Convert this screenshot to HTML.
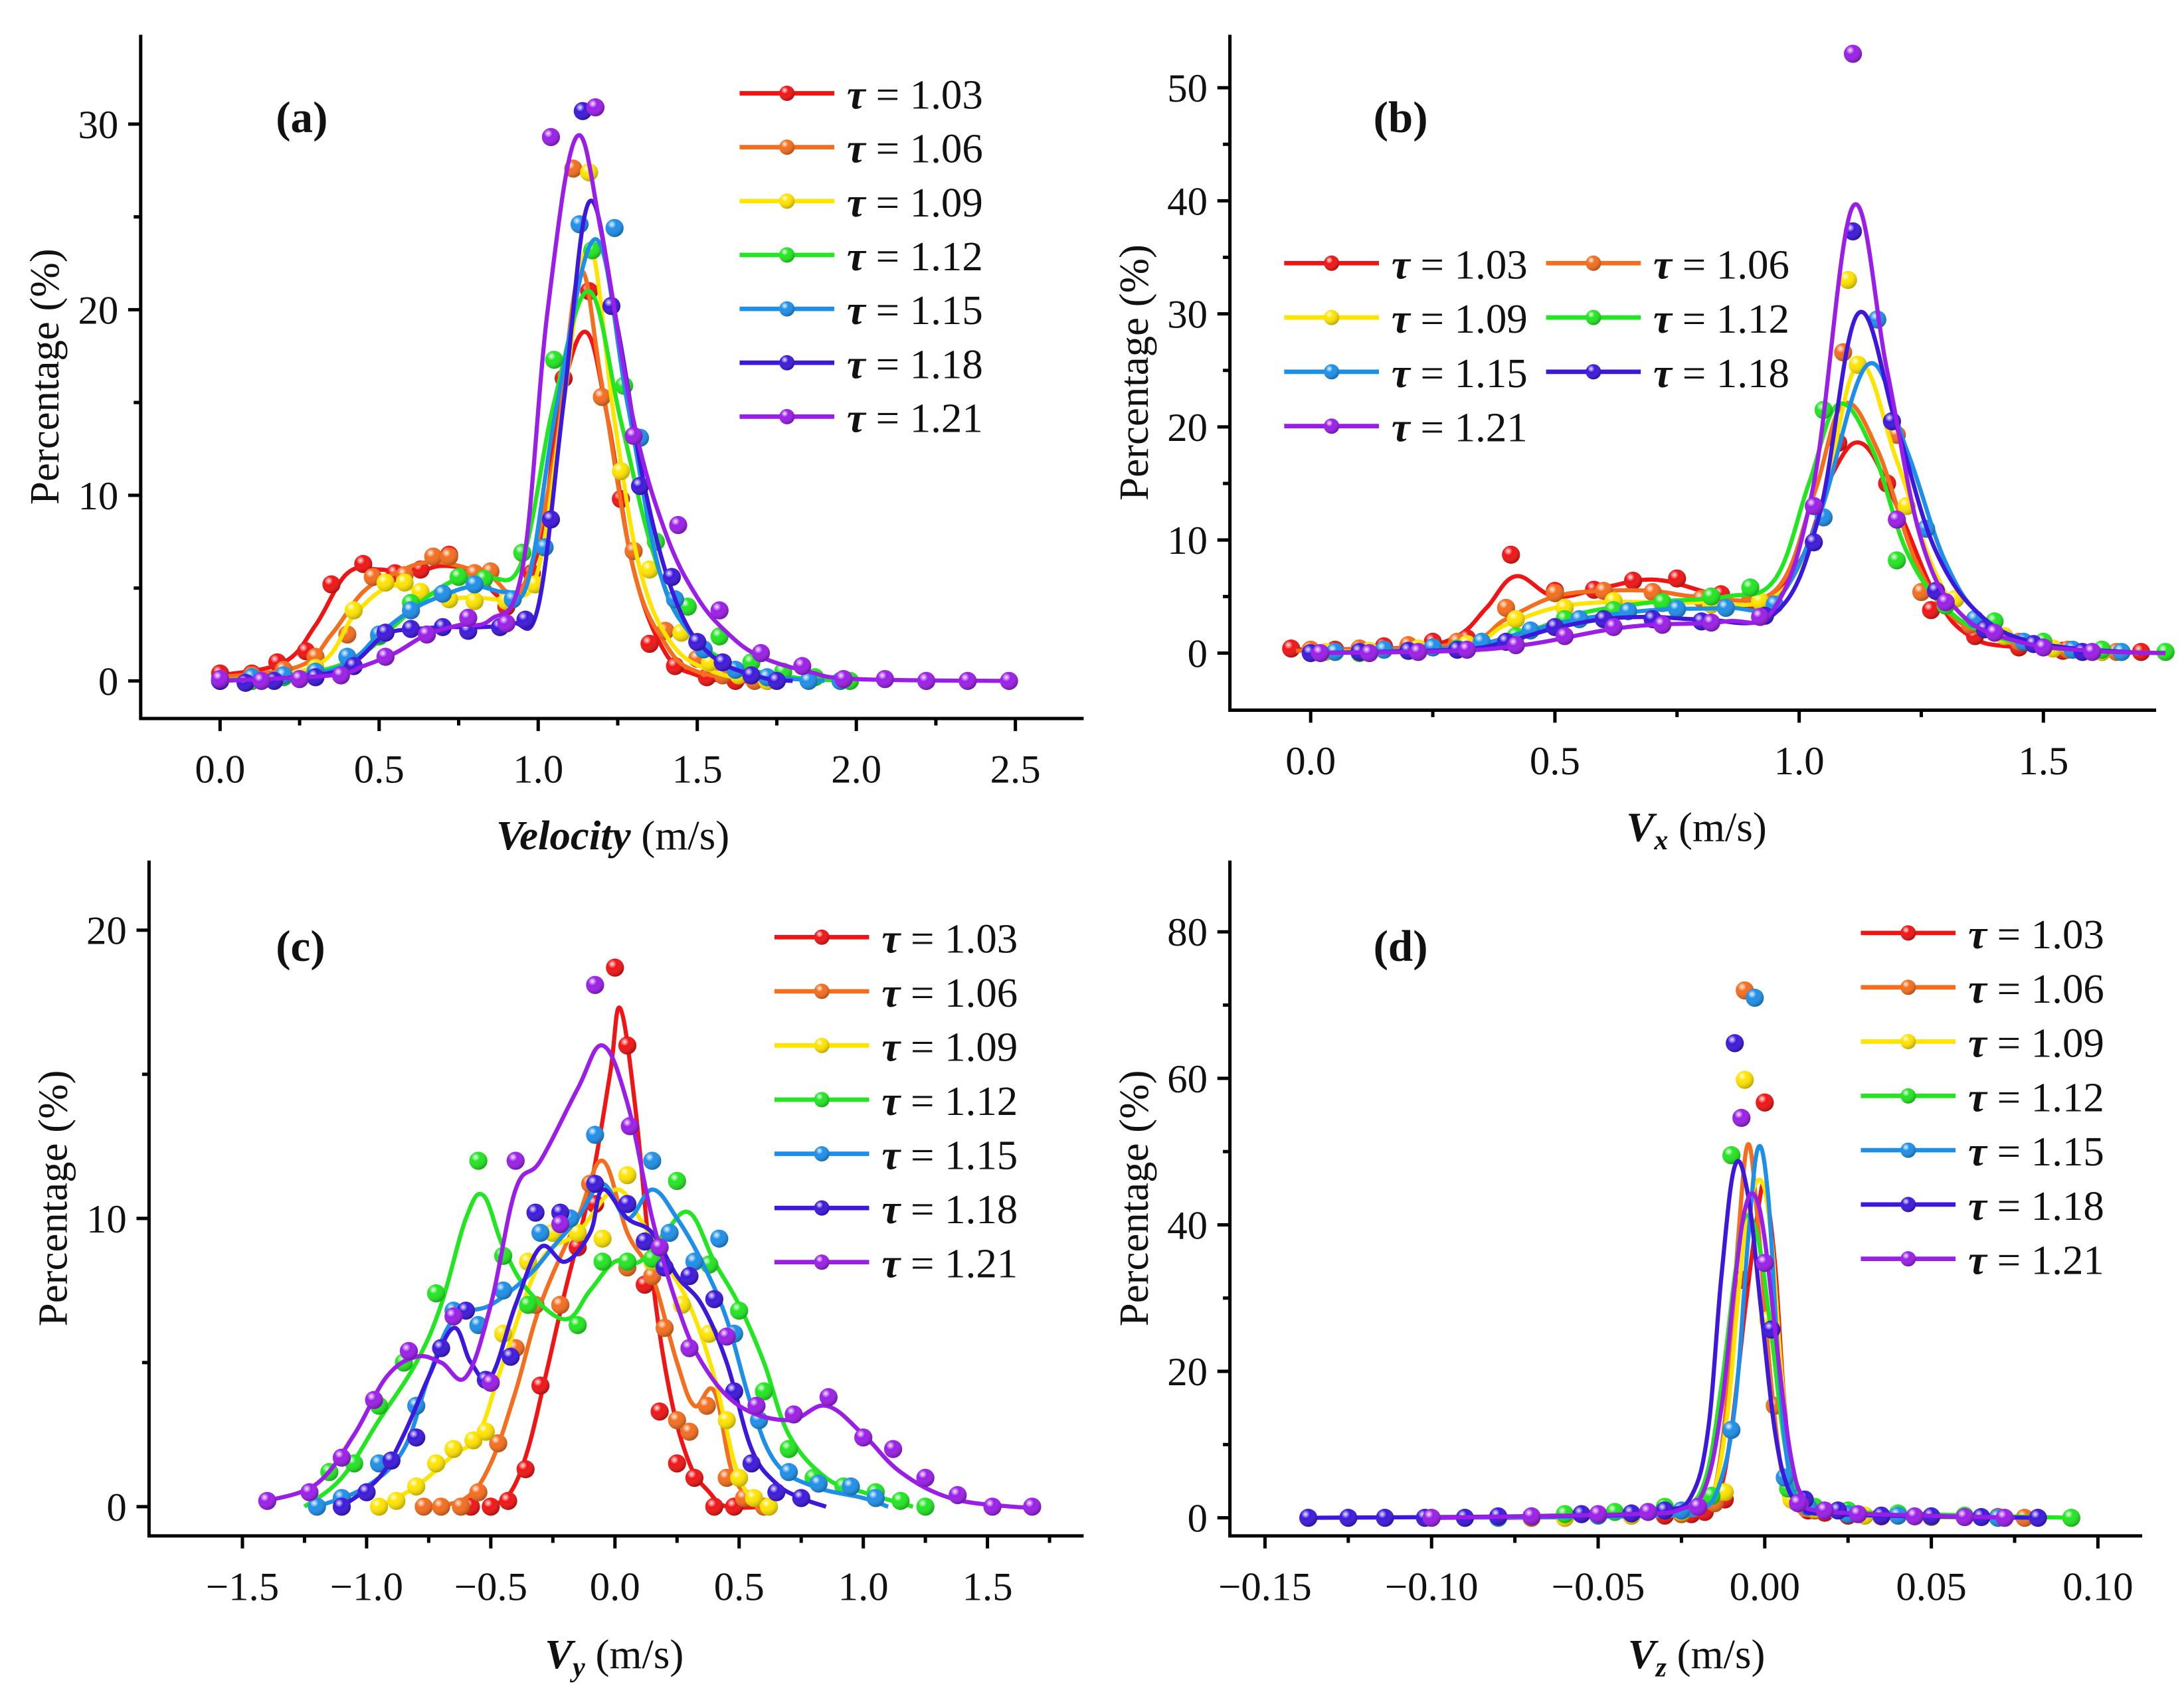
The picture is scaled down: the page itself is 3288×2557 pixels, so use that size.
<!DOCTYPE html>
<html><head><meta charset="utf-8"><style>
html,body{margin:0;padding:0;background:#fff;}
svg{display:block;font-family:"Liberation Serif",serif;}
</style></head><body>
<svg id="fig" width="3288" height="2557" viewBox="0 0 1568 1219.4" xmlns="http://www.w3.org/2000/svg">
<defs>
<radialGradient id="hl" cx="0.35" cy="0.3" r="0.7"><stop offset="0" stop-color="#fff" stop-opacity="0.9"/><stop offset="0.35" stop-color="#fff" stop-opacity="0"/><stop offset="1" stop-color="#000" stop-opacity="0.25"/></radialGradient>
</defs>
</svg>
<script>
const colors = ['#f01414','#f46e1e','#ffe400','#22e622','#1e8fe8','#3c18dc','#9b1ee8'];
const labels = ['1.03','1.06','1.09','1.12','1.15','1.18','1.21'];

const aCurves = [
[[0,0.3],[0.2,1],[0.3,3],[0.4,5.8],[0.5,6],[0.6,5.8],[0.7,6.2],[0.8,5.8],[0.9,4.5],[1.0,7],[1.07,15],[1.15,18.8],[1.22,14],[1.3,6],[1.4,1.5],[1.5,0.3],[1.6,0],[1.75,0]],
[[0,0.2],[0.25,0.8],[0.35,2.5],[0.45,4.8],[0.55,5.8],[0.65,6.4],[0.75,6.2],[0.85,5.6],[0.95,5],[1.05,12],[1.13,22],[1.2,16],[1.3,6],[1.4,2],[1.5,0.5],[1.7,0]],
[[0,0],[0.3,0.8],[0.42,3.5],[0.52,5],[0.6,5],[0.7,4.5],[0.8,4.5],[0.92,4.5],[1.0,6],[1.08,15],[1.16,23.5],[1.24,14],[1.32,6],[1.42,2],[1.55,0.5],[1.7,0]],
[[0,0],[0.3,0.5],[0.45,1.5],[0.55,3],[0.65,4.5],[0.75,5.5],[0.85,5.5],[0.95,6.5],[1.05,15],[1.16,21],[1.26,14],[1.36,7],[1.46,3],[1.6,1],[1.8,0.2],[2.0,0]],
[[0,0],[0.3,0.4],[0.42,1.2],[0.5,2.5],[0.6,3.8],[0.7,4.6],[0.8,5.1],[0.9,4.8],[0.97,5.5],[1.06,15],[1.18,23.8],[1.28,15],[1.38,6],[1.48,2.5],[1.6,0.8],[1.75,0.2],[1.9,0]],
[[0,0],[0.3,0.3],[0.42,1],[0.52,2.5],[0.62,2.8],[0.72,2.9],[0.82,2.9],[0.92,3.1],[1.0,4],[1.08,15],[1.16,25.8],[1.25,19],[1.34,10],[1.44,4],[1.55,1.3],[1.7,0.2],[1.8,0]],
[[0,0],[0.35,0.3],[0.45,0.8],[0.55,1.5],[0.65,2.5],[0.75,3],[0.85,3.3],[0.95,6],[1.03,20],[1.12,29.3],[1.2,24],[1.3,14],[1.4,8],[1.5,4.5],[1.6,2.5],[1.7,1.3],[1.85,0.5],[2.0,0.1],[2.5,0]]
];
const aPoints = [
[[0,0.4],[0.1,0.4],[0.18,1],[0.27,1.6],[0.35,5.2],[0.45,6.3],[0.55,5.8],[0.63,6],[0.72,6.8],[0.8,5.8],[0.9,4],[0.98,5.8],[1.08,16.3],[1.16,21],[1.26,9.8],[1.35,2],[1.43,0.8],[1.53,0.2],[1.62,0],[1.72,0]],
[[0,0.1],[0.1,0.3],[0.2,0.6],[0.3,1.3],[0.4,2.5],[0.48,5.6],[0.58,5.7],[0.67,6.7],[0.72,6.7],[0.8,5.8],[0.85,5.9],[1.11,27.6],[1.2,15.3],[1.3,7],[1.4,2.7],[1.5,1.2],[1.58,0.3],[1.68,0],[1.72,0]],
[[0,0],[0.1,0],[0.2,0.3],[0.3,0.7],[0.42,3.8],[0.52,5.3],[0.58,5.3],[0.63,4.8],[0.72,4.4],[0.8,4.3],[0.9,4.3],[0.99,5.2],[1.16,27.4],[1.26,11.3],[1.35,6],[1.45,2.6],[1.54,1],[1.63,0.3],[1.72,0]],
[[0,0],[0.1,0],[0.2,0.2],[0.3,0.3],[0.42,0.8],[0.5,2.4],[0.6,4.2],[0.75,5.6],[0.83,5.5],[0.95,6.9],[1.05,17.3],[1.17,23.2],[1.27,15.9],[1.37,7.5],[1.47,4],[1.57,2.4],[1.67,1],[1.77,0.5],[1.87,0.2],[1.98,0]],
[[0,0.1],[0.1,0.2],[0.2,0.3],[0.3,0.5],[0.4,1.3],[0.5,2.5],[0.6,3.8],[0.7,4.7],[0.8,5.2],[0.92,4.4],[1.02,7.2],[1.13,24.6],[1.24,24.4],[1.32,13.1],[1.43,4.4],[1.52,1.7],[1.62,0.6],[1.72,0.2],[1.85,0],[1.95,0]],
[[0,0],[0.08,-0.1],[0.17,0],[0.3,0.2],[0.42,0.8],[0.52,2.6],[0.6,2.8],[0.7,2.9],[0.78,2.7],[0.88,2.9],[0.96,3.3],[1.04,8.7],[1.14,30.7],[1.23,20.2],[1.32,10.5],[1.42,5.6],[1.5,2.1],[1.58,1],[1.67,0.3],[1.75,0]],
[[0,0.1],[0.13,0],[0.25,0.1],[0.38,0.3],[0.52,1.3],[0.65,2.5],[0.78,3.4],[0.9,3.1],[1.04,29.3],[1.18,30.9],[1.3,13.2],[1.44,8.4],[1.57,3.8],[1.7,1.5],[1.83,0.8],[1.96,0.1],[2.09,0.1],[2.22,0],[2.35,0],[2.48,0]]
];

const bCurves = [
[[-0.05,0.3],[0.2,0.5],[0.3,1.5],[0.36,4],[0.42,6.8],[0.5,5],[0.6,5.8],[0.7,6.5],[0.8,5.5],[0.9,4],[1.0,8],[1.07,16],[1.13,18.5],[1.2,13],[1.28,5],[1.35,1.5],[1.45,0.5],[1.7,0]],
[[-0.03,0.2],[0.3,0.8],[0.4,3],[0.5,5],[0.6,5.5],[0.7,5.5],[0.8,5],[0.95,5.5],[1.03,14],[1.09,22],[1.16,18],[1.24,8],[1.32,3],[1.45,0.8],[1.6,0.2],[1.75,0]],
[[0,0.1],[0.3,0.5],[0.4,2.5],[0.5,4],[0.6,4.5],[0.7,4.5],[0.8,4.5],[0.95,5],[1.04,12],[1.12,25.5],[1.2,17],[1.28,7],[1.36,2.5],[1.5,0.5],[1.7,0]],
[[0,0],[0.3,0.5],[0.45,2],[0.55,3.5],[0.7,4.5],[0.85,5],[0.95,6.5],[1.02,15],[1.08,22],[1.15,18],[1.22,9],[1.3,4],[1.4,1.5],[1.55,0.3],[1.75,0]],
[[0,0],[0.3,0.5],[0.45,2],[0.55,3],[0.7,3.8],[0.85,4],[0.95,4.5],[1.04,12],[1.14,25.5],[1.22,18],[1.3,8],[1.38,3],[1.5,0.8],[1.7,0]],
[[0,0],[0.3,0.3],[0.4,1],[0.5,2.2],[0.6,3],[0.7,3.2],[0.8,3],[0.95,3.5],[1.04,12],[1.12,30],[1.2,20],[1.28,9],[1.38,3],[1.5,0.8],[1.7,0]],
[[0,0],[0.3,0.2],[0.45,0.8],[0.6,2],[0.7,2.5],[0.85,2.8],[0.95,4],[1.03,15],[1.11,39.5],[1.18,25],[1.25,10],[1.33,3.5],[1.45,1],[1.6,0.2],[1.75,0]]
];
const bPoints = [
[[-0.04,0.4],[0.05,0.3],[0.15,0.6],[0.25,1],[0.32,1.3],[0.41,8.7],[0.5,5.5],[0.58,5.6],[0.66,6.4],[0.75,6.6],[0.84,5.2],[1.08,18.6],[1.18,15],[1.27,3.8],[1.36,1.5],[1.45,0.5],[1.54,0.2],[1.62,0.1],[1.7,0.1]],
[[0,0.3],[0.1,0.4],[0.2,0.7],[0.3,1],[0.4,4],[0.5,5.3],[0.6,5.5],[0.7,5.4],[0.8,4.8],[0.9,5],[1.09,26.6],[1.2,19.3],[1.25,5.4],[1.35,2.5],[1.45,1],[1.55,0.3],[1.65,0.1]],
[[0.03,0.1],[0.12,0.2],[0.22,0.4],[0.32,0.8],[0.42,3],[0.52,4],[0.62,4.6],[0.72,4.4],[0.82,4.3],[0.92,4.6],[1.1,33],[1.12,25.5],[1.22,13],[1.32,4.8],[1.42,1.5],[1.52,0.4],[1.62,0.1]],
[[0.1,0],[0.2,0.2],[0.3,0.4],[0.42,1.5],[0.52,3],[0.62,3.8],[0.72,4.5],[0.82,5],[0.9,5.8],[1.05,21.5],[1.2,8.2],[1.3,4.2],[1.4,2.8],[1.5,1],[1.62,0.3],[1.75,0.1]],
[[0.05,0.1],[0.15,0.3],[0.25,0.5],[0.35,1],[0.45,2],[0.55,3],[0.65,3.7],[0.75,3.9],[0.85,4],[0.95,4.3],[1.05,12],[1.16,29.5],[1.26,11],[1.36,3],[1.46,1],[1.56,0.3],[1.66,0.1]],
[[0,0],[0.1,0.1],[0.2,0.2],[0.3,0.3],[0.4,1],[0.5,2.3],[0.6,3],[0.7,3],[0.8,2.8],[0.93,3.3],[1.03,9.8],[1.11,37.3],[1.19,20.5],[1.28,5.5],[1.38,2.1],[1.48,0.8],[1.58,0.1]],
[[0.02,0],[0.12,0],[0.22,0.1],[0.32,0.3],[0.42,0.7],[0.52,1.5],[0.62,2.3],[0.72,2.5],[0.82,2.7],[0.92,3.2],[1.03,13],[1.11,53],[1.2,11.8],[1.3,4.5],[1.4,1.8],[1.5,0.5],[1.6,0.1]]
];

const cCurves = [
[[-0.5,0],[-0.42,0.5],[-0.35,2],[-0.28,4.5],[-0.2,7.5],[-0.1,11],[-0.02,15],[0.02,17.3],[0.08,14],[0.15,8],[0.22,4],[0.3,1.5],[0.38,0.5],[0.45,0],[0.6,0]],
[[-0.75,0],[-0.6,0.3],[-0.5,1.5],[-0.4,4],[-0.3,7],[-0.15,10],[-0.05,12],[0.05,9.5],[0.15,8],[0.25,5],[0.32,3.5],[0.4,4],[0.48,1],[0.6,0]],
[[-0.95,0],[-0.8,0.7],[-0.65,1.8],[-0.55,2.5],[-0.45,5],[-0.3,8.5],[-0.15,9.5],[0,11],[0.1,10],[0.2,8.5],[0.3,7],[0.4,4.5],[0.5,1],[0.6,0]],
[[-1.25,0],[-1.1,1],[-0.95,3],[-0.8,5],[-0.7,7],[-0.6,10],[-0.53,10.8],[-0.45,9],[-0.35,7.5],[-0.2,6.5],[-0.1,7.5],[0,8.5],[0.1,8.5],[0.2,9.5],[0.3,10.2],[0.4,8.5],[0.5,7],[0.6,5],[0.7,2.5],[0.85,1],[1,0.5],[1.2,0]],
[[-1.2,0],[-1.0,0.7],[-0.85,2],[-0.75,4.5],[-0.65,6.5],[-0.5,7],[-0.35,8],[-0.25,9],[-0.15,10],[-0.05,11.2],[0.05,10],[0.15,11],[0.25,10],[0.35,8.5],[0.45,6.5],[0.55,3.5],[0.65,1.5],[0.8,0.7],[1,0.3],[1.1,0]],
[[-1.1,0],[-0.95,1],[-0.85,2.5],[-0.75,4.5],[-0.65,6.2],[-0.58,5],[-0.5,4.5],[-0.4,7],[-0.3,9],[-0.2,8.5],[-0.1,9.5],[-0.05,11],[0.05,10],[0.15,9.5],[0.25,8],[0.35,7],[0.45,5],[0.55,2],[0.65,0.8],[0.75,0.3],[0.85,0]],
[[-1.4,0.2],[-1.2,0.8],[-1.05,2.5],[-0.92,4.5],[-0.8,5.2],[-0.7,5],[-0.6,4.5],[-0.5,7],[-0.4,11],[-0.3,12],[-0.15,14.5],[-0.05,16],[0.05,14],[0.15,10],[0.25,7],[0.35,5],[0.5,3.5],[0.7,3],[0.85,3.5],[1.0,2.5],[1.15,1.2],[1.35,0.3],[1.6,0],[1.7,0]]
];
const cPoints = [
[[-0.58,0],[-0.5,0],[-0.43,0.2],[-0.36,1.3],[-0.3,4.2],[-0.22,7],[-0.15,9],[-0.08,10.5],[0.0,18.7],[0.05,16],[0.12,7.7],[0.18,3.3],[0.25,1.5],[0.32,1.0],[0.4,0],[0.48,0]],
[[-0.77,0],[-0.7,0],[-0.62,0],[-0.55,0.5],[-0.47,2.2],[-0.4,5.5],[-0.32,7],[-0.22,7],[-0.1,11.2],[0.05,8.3],[0.15,8],[0.2,6.2],[0.25,3],[0.3,2.6],[0.37,3.5],[0.45,1],[0.52,0.3],[0.6,0]],
[[-0.95,0],[-0.88,0.2],[-0.8,0.7],[-0.72,1.5],[-0.65,2],[-0.57,2.3],[-0.52,2.6],[-0.45,6],[-0.35,8.5],[-0.25,9.5],[-0.15,9.5],[-0.05,9.3],[0.05,11.5],[0.15,8.5],[0.27,7],[0.38,6],[0.45,3],[0.5,1],[0.56,0.3],[0.62,0]],
[[-1.15,1.2],[-1.05,1.5],[-0.95,3.5],[-0.85,5],[-0.72,7.4],[-0.55,12],[-0.45,8.7],[-0.35,7],[-0.15,6.3],[-0.05,8.5],[0.05,8.5],[0.15,8.6],[0.25,11.3],[0.38,8.4],[0.5,6.8],[0.6,4],[0.7,2],[0.8,1],[0.92,0.7],[1.05,0.5],[1.15,0.2],[1.25,0]],
[[-1.2,0],[-1.1,0.3],[-0.95,1.5],[-0.8,3.5],[-0.65,6.8],[-0.55,6.3],[-0.45,7.5],[-0.3,9.5],[-0.18,10],[-0.08,12.9],[0.15,12],[0.22,9.5],[0.32,8.5],[0.42,9.3],[0.48,6],[0.58,3],[0.7,1.2],[0.82,0.8],[0.95,0.7],[1.05,0.3]],
[[-1.1,0],[-1.0,0.5],[-0.9,1.6],[-0.8,2.4],[-0.7,5.5],[-0.6,6.8],[-0.52,4.4],[-0.42,5.2],[-0.32,10.2],[-0.22,10.2],[-0.08,11.2],[0.05,10.5],[0.12,9.2],[0.2,8.3],[0.3,8],[0.4,7.2],[0.48,4],[0.55,1.5],[0.65,0.5],[0.75,0.3]],
[[-1.4,0.2],[-1.23,0.5],[-1.1,1.7],[-0.97,3.7],[-0.83,5.4],[-0.65,6.6],[-0.5,4.3],[-0.4,12],[-0.22,9.8],[-0.08,18.1],[0.06,13.2],[0.18,9],[0.3,5.5],[0.45,5.9],[0.57,3.5],[0.72,3.2],[0.86,3.8],[1.0,2.4],[1.12,2],[1.25,1],[1.38,0.4],[1.52,0],[1.68,0]]
];

const dCurves = [
[[-0.08,0],[-0.03,0.3],[-0.02,0.8],[-0.014,3],[-0.01,12],[-0.006,28],[-0.002,42],[0,45],[0.003,35],[0.006,15],[0.009,4],[0.013,1],[0.02,0.3],[0.08,0]],
[[-0.1,0],[-0.03,0.3],[-0.02,1],[-0.015,4],[-0.011,18],[-0.008,38],[-0.005,51],[-0.002,40],[0.002,18],[0.006,4],[0.01,1],[0.02,0.3],[0.08,0]],
[[-0.1,0],[-0.03,0.3],[-0.02,1],[-0.015,4],[-0.011,15],[-0.008,30],[-0.005,42],[-0.001,46],[0.002,38],[0.005,20],[0.008,6],[0.012,1.5],[0.02,0.3],[0.08,0]],
[[-0.1,0],[-0.04,0.6],[-0.025,1.5],[-0.018,5],[-0.013,18],[-0.009,33],[-0.006,41],[-0.002,38],[0.002,25],[0.006,10],[0.01,3],[0.015,1.5],[0.025,0.8],[0.092,0]],
[[-0.1,0],[-0.03,0.3],[-0.02,1],[-0.014,4],[-0.009,15],[-0.005,38],[-0.002,50.5],[0.001,44],[0.004,22],[0.007,7],[0.011,2],[0.02,0.5],[0.08,0]],
[[-0.137,0],[-0.05,0.3],[-0.03,1],[-0.022,3],[-0.017,12],[-0.013,33],[-0.009,48],[-0.005,44],[-0.001,28],[0.003,12],[0.007,4],[0.012,1.5],[0.02,0.5],[0.082,0]],
[[-0.1,0],[-0.04,0.5],[-0.025,1.2],[-0.018,4],[-0.013,15],[-0.009,32],[-0.006,42],[-0.003,44],[0,38],[0.004,22],[0.008,8],[0.012,2.5],[0.02,0.8],[0.075,0]]
];
const dPoints = [
[[-0.06,0],[-0.04,0.3],[-0.03,0.3],[-0.022,0.5],[-0.018,0.8],[-0.012,2.5],[-0.007,32.5],[0,56.7],[0.008,3],[0.013,1],[0.018,0.7],[0.025,0.3],[0.035,0.2],[0.05,0.1],[0.07,0.1]],
[[-0.07,0],[-0.04,0.3],[-0.025,0.5],[-0.015,2],[-0.006,72],[0.003,15.3],[0.008,3],[0.015,1],[0.03,0.3],[0.05,0.2],[0.078,0]],
[[-0.06,0],[-0.04,0.3],[-0.025,0.8],[-0.012,3.5],[-0.006,59.8],[0.001,27],[0.008,2.5],[0.015,1.2],[0.03,0.3],[0.05,0.1],[0.07,0]],
[[-0.09,0],[-0.06,0.5],[-0.045,0.8],[-0.03,1.5],[-0.016,3],[-0.01,49.5],[0.007,4],[0.015,1.5],[0.025,1],[0.04,0.6],[0.06,0.3],[0.092,0]],
[[-0.08,0],[-0.05,0.3],[-0.025,1],[-0.01,12],[-0.003,71],[0.006,5.5],[0.013,1.5],[0.025,0.5],[0.04,0.3],[0.06,0.1],[0.07,0]],
[[-0.137,0],[-0.125,0],[-0.114,0],[-0.102,0],[-0.09,0],[-0.08,0.2],[-0.07,0.2],[-0.055,0.5],[-0.04,0.6],[-0.03,1],[-0.009,64.8],[0.002,25.7],[0.012,2.5],[0.022,1],[0.035,0.3],[0.05,0.2],[0.065,0.1],[0.082,0]],
[[-0.1,0],[-0.07,0.2],[-0.05,0.5],[-0.035,0.8],[-0.02,1.5],[-0.007,54.6],[0.0,34.8],[0.01,2],[0.018,1],[0.028,0.5],[0.045,0.2],[0.06,0.1],[0.072,0]]
];

const aXTicks = ['0.0','0.5','1.0','1.5','2.0','2.5'];
const aYTicks = ['0','10','20','30'];
const bXTicks = ['0.0','0.5','1.0','1.5'];
const bYTicks = ['0','10','20','30','40','50'];
const cXTicks = ['\u22121.5','\u22121.0','\u22120.5','0.0','0.5','1.0','1.5'];
const cYTicks = ['0','10','20'];
const dXTicks = ['\u22120.15','\u22120.10','\u22120.05','0.00','0.05','0.10'];
const dYTicks = ['0','20','40','60','80'];

const NS = 'http://www.w3.org/2000/svg';
const svg = document.getElementById('fig');
function mk(tag, attrs, parent){ const e=document.createElementNS(NS,tag); for(const k in attrs) e.setAttribute(k,attrs[k]); (parent||svg).appendChild(e); return e; }
function num(s){ return parseFloat(s.replace('\u2212','-')); }

function spline(pts){
  let d='M'+pts[0][0].toFixed(2)+','+pts[0][1].toFixed(2);
  for(let i=0;i<pts.length-1;i++){
    const p0=pts[Math.max(0,i-1)],p1=pts[i],p2=pts[i+1],p3=pts[Math.min(pts.length-1,i+2)];
    const t=0.18;
    const c1=[p1[0]+(p2[0]-p0[0])*t,p1[1]+(p2[1]-p0[1])*t];
    const c2=[p2[0]-(p3[0]-p1[0])*t,p2[1]-(p3[1]-p1[1])*t];
    d+=' C'+c1[0].toFixed(2)+','+c1[1].toFixed(2)+' '+c2[0].toFixed(2)+','+c2[1].toFixed(2)+' '+p2[0].toFixed(2)+','+p2[1].toFixed(2);
  }
  return d;
}

function ball(g,x,y,c,r){
  const b=mk('circle',{cx:x,cy:y,r:r,fill:c},g);
  
  
  mk('circle',{cx:x,cy:y,r:r,fill:'url(#hl)'},g);
}

function panel(P){
  const g=mk('g',{});
  
  
  const sx=v=>P.px0+(v-P.x0)*P.kx, sy=v=>P.py0-(v-P.y0)*P.ky;
  for(let s=0;s<7;s++){
    const sg=mk('g',{},g);
    
    
    const cp=P.curves[s].map(p=>[sx(p[0]),sy(p[1])]);
    const ln=mk('path',{d:spline(cp),fill:'none',stroke:colors[s],'stroke-width':3,'stroke-linejoin':'round'},sg);
    
    
    P.points[s].forEach(p=>ball(sg,sx(p[0]),sy(p[1]),colors[s],6.5));
  }
  const ax=mk('g',{stroke:'#000','stroke-width':2.4,fill:'none'},g);
  
  
  mk('path',{d:`M${P.L},${P.T} V${P.B} H${P.R}`},ax);
  P.xt.forEach(t=>{const x=sx(num(t)); mk('line',{x1:x,x2:x,y1:P.B,y2:P.B+9},ax);});
  P.xt.slice(0,-1).forEach((t,i)=>{const x=sx((num(t)+num(P.xt[i+1]))/2); mk('line',{x1:x,x2:x,y1:P.B,y2:P.B+5},ax);});
  {const x=sx(num(P.xt[P.xt.length-1])+(num(P.xt[1])-num(P.xt[0]))/2); if(x<P.R) mk('line',{x1:x,x2:x,y1:P.B,y2:P.B+5},ax);}
  P.yt.forEach(t=>{const y=sy(num(t)); mk('line',{x1:P.L,x2:P.L-9,y1:y,y2:y},ax);});
  const st=num(P.yt[1])-num(P.yt[0]);
  for(let v=num(P.yt[0])+st/2; sy(v)>P.T; v+=st){const y=sy(v); mk('line',{x1:P.L,x2:P.L-5,y1:y,y2:y},ax);}
  P.xt.forEach(t=>{const e=mk('text',{x:sx(num(t)),y:P.B+46,'font-size':29,'text-anchor':'middle',fill:'#111'},g); e.textContent=t;
     });
  P.yt.forEach(t=>{const e=mk('text',{x:P.L-16,y:sy(num(t))+10,'font-size':29,'text-anchor':'end',fill:'#111'},g); e.textContent=t;
     });
  const xt=mk('text',{x:P.xtx,y:P.xty,'font-size':30,'text-anchor':'middle',fill:'#111'},g);
  xt.innerHTML=P.xtitle;
   
  const yt=mk('text',{x:0,y:0,'font-size':30,'text-anchor':'middle',fill:'#111',transform:`translate(${P.ytx},${(P.T+P.B)/2}) rotate(-90)`},g);
  yt.textContent='Percentage (%)';
   
  const pl=mk('text',{x:P.lab[0],y:P.lab[1],'font-size':32,'font-weight':'bold',fill:'#111'},g);
  pl.textContent=P.letter;
   
  const lg=mk('g',{},g);
  
  
  P.leg.forEach((pos,s)=>{
    const eg=mk('g',{},lg);
    
    
    mk('line',{x1:pos[0],x2:pos[0]+68,y1:pos[1],y2:pos[1],stroke:colors[s],'stroke-width':3.2},eg);
    ball(eg,pos[0]+34,pos[1],colors[s],5.5);
    const t=mk('text',{x:pos[0]+77,y:pos[1]+11,'font-size':30,fill:'#111'},eg);
    t.innerHTML='<tspan font-weight="bold" font-style="italic">\u03c4</tspan> = '+labels[s];
  });
}

function rows(x,y0,dy){return [0,1,2,3,4,5,6].map(i=>[x,y0+i*dy]);}

panel({name:'panel-a-velocity',curves:aCurves,points:aPoints,xt:aXTicks,yt:aYTicks,
  L:101,R:778,T:25,B:516,px0:158,x0:0,kx:228.4,py0:489,y0:0,ky:13.33,
  xtitle:'<tspan font-weight="bold" font-style="italic">Velocity</tspan> (m/s)',xtx:440,xty:610,ytx:42,
  letter:'(a)',lab:[198,95],leg:rows(531,67,38.7)});
panel({name:'panel-b-vx',curves:bCurves,points:bPoints,xt:bXTicks,yt:bYTicks,
  L:883,R:1548,T:25,B:510,px0:941,x0:0,kx:350.7,py0:469,y0:0,ky:8.12,
  xtitle:'<tspan font-weight="bold" font-style="italic">V<tspan font-size="20" dy="6">x</tspan></tspan><tspan dy="-6"> (m/s)</tspan>',xtx:1218,xty:604,ytx:824,
  letter:'(b)',lab:[986,95],leg:[[922,189],[1110,189],[922,228],[1110,228],[922,267],[1110,267],[922,306]]});
panel({name:'panel-c-vy',curves:cCurves,points:cPoints,xt:cXTicks,yt:cYTicks,
  L:107,R:778,T:618,B:1103,px0:441.5,x0:0,kx:178.3,py0:1082,y0:0,ky:20.7,
  xtitle:'<tspan font-weight="bold" font-style="italic">V<tspan font-size="20" dy="6">y</tspan></tspan><tspan dy="-6"> (m/s)</tspan>',xtx:441,xty:1198,ytx:48,
  letter:'(c)',lab:[198,690],leg:rows(556,673,38.9)});
panel({name:'panel-d-vz',curves:dCurves,points:dPoints,xt:dXTicks,yt:dYTicks,
  L:883,R:1538,T:618,B:1103,px0:1267,x0:0,kx:2392,py0:1090,y0:0,ky:5.26,
  xtitle:'<tspan font-weight="bold" font-style="italic">V<tspan font-size="20" dy="6">z</tspan></tspan><tspan dy="-6"> (m/s)</tspan>',xtx:1218,xty:1198,ytx:824,
  letter:'(d)',lab:[986,690],leg:rows(1336,670,39)});
</script>
</body></html>
